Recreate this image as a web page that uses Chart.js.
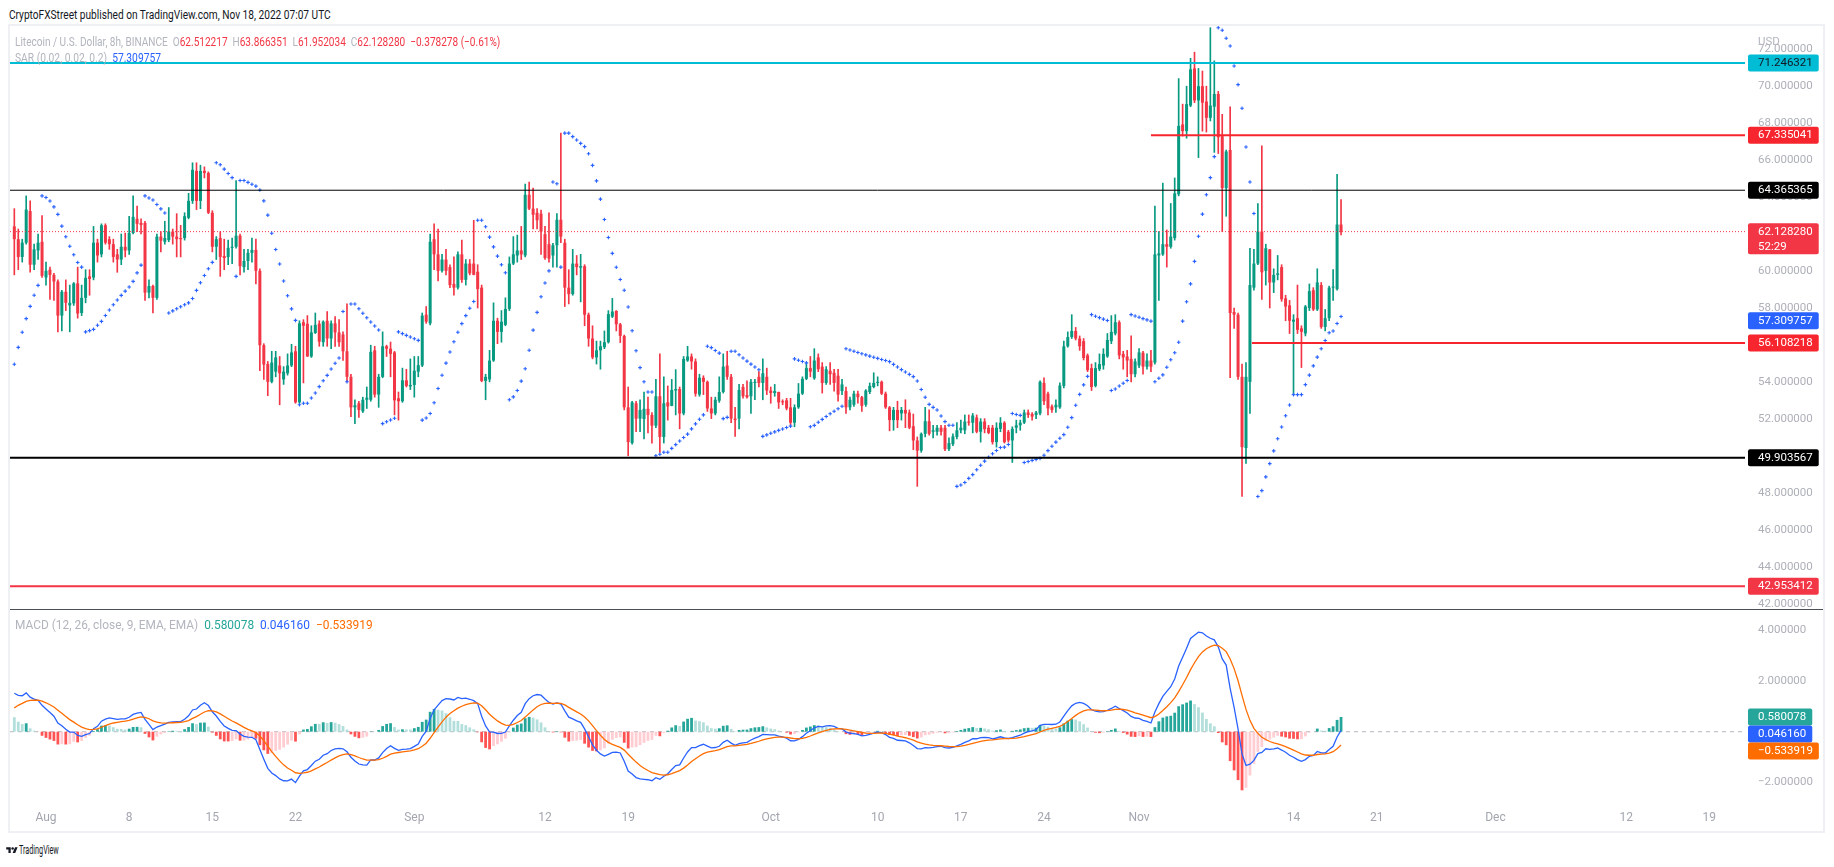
<!DOCTYPE html>
<html><head><meta charset="utf-8"><title>LTC/USD 8h</title>
<script src="https://cdn.jsdelivr.net/npm/chart.js@4.4.1/dist/chart.umd.min.js"></script>
<style>
html,body{margin:0;padding:0;background:#fff;}
body{width:1834px;height:867px;position:relative;overflow:hidden;font-family:Roboto,"Noto Sans",sans-serif;}
.fit{position:absolute;white-space:pre;transform-origin:0 50%;line-height:14px;height:14px;font-size:12.5px;display:inline-block;}
canvas{position:absolute;left:0;}
#frame{position:absolute;left:8px;top:24px;width:1817px;height:809px;border:2px solid #eef0f4;box-sizing:border-box;}
#sep{position:absolute;left:10px;top:609px;width:1813px;height:1px;background:#4a4e59;}
.r{color:#f23645}
</style></head><body>
<div id="frame"></div>
<canvas id="priceChart" width="1834" height="583" style="top:26px;width:1834px;height:583px"></canvas>
<canvas id="macdChart" width="1834" height="223" style="top:610px;width:1834px;height:223px"></canvas>
<div id="sep"></div>
<div class="fit" data-w="322" style="left:9px;top:8px;color:#131722">CryptoFXStreet published on TradingView.com, Nov 18, 2022 07:07 UTC</div>
<div class="fit" data-w="485" style="left:15px;top:35px;color:#b2b5be">Litecoin / U.S. Dollar, 8h, BINANCE  O<span class="r">62.512217</span>  H<span class="r">63.866351</span>  L<span class="r">61.952034</span>  C<span class="r">62.128280</span>  <span class="r">−0.378278 (−0.61%)</span></div>
<div class="fit" data-w="146" style="left:15px;top:51px;color:#b2b5be">SAR (0.02, 0.02, 0.2)  <span style="color:#2962ff">57.309757</span></div>
<div class="fit" data-w="358" style="left:15px;top:618px;color:#b2b5be">MACD (12, 26, close, 9, EMA, EMA)  <span style="color:#26a69a">0.580078</span>  <span style="color:#2962ff">0.046160</span>  <span style="color:#ff6d00">−0.533919</span></div>
<div style="position:absolute;left:1758px;top:34px;font-size:11.5px;color:#b2b5be;line-height:14px">USD</div>
<svg style="position:absolute;left:6px;top:846px" width="12" height="9" viewBox="0 0 36 28"><path d="M14 22H7V11H0V4h14v18zM28 22h-8l7.5-18h8L28 22z" fill="#131722"/><circle cx="20" cy="8" r="4" fill="#131722"/></svg>
<div class="fit" data-w="40" style="left:19px;top:843px;color:#131722;font-size:13px">TradingView</div>
<script>
// ---------------- DATA ----------------
const firstBarTime = Date.UTC(2022, 6, 29, 8); // Jul 29 2022 08:00 UTC
const barHours = 8;
const axisOrigin = Date.UTC(2022, 7, 1); // Aug 1 2022

const opens = [
62.41,61.72,60.76,61.53,63.24,60.34,61.11,61.58,59.65,60.07,
59.79,59.43,57.59,58.88,58.14,58.25,59.33,57.73,58.55,59.71,
59.65,61.53,60.90,62.47,61.72,61.45,60.90,60.62,61.31,61.11,
62.05,62.82,62.60,62.60,58.83,59.19,58.55,61.86,61.58,61.67,
62.13,61.86,61.78,61.78,62.88,63.79,65.41,63.79,65.41,65.30,
63.15,61.31,61.78,60.81,60.76,61.25,61.31,61.91,60.21,60.54,
60.98,61.14,60.01,55.99,54.97,54.01,54.56,54.89,54.14,54.47,
54.89,55.66,52.90,57.23,57.15,55.38,56.65,57.15,56.15,57.31,
56.35,57.17,56.68,56.57,55.66,54.28,52.63,52.85,52.41,53.04,
53.04,55.71,53.32,54.28,55.93,55.80,55.60,53.12,52.96,54.09,
53.76,53.84,54.56,54.89,57.64,57.17,61.72,60.90,60.01,60.62,
60.21,59.30,59.10,60.90,59.52,60.40,60.40,59.96,59.10,54.06,
54.14,55.16,57.31,56.71,57.09,57.95,60.40,60.84,61.11,60.84,
64.12,63.37,63.15,63.10,61.99,61.45,60.84,61.39,62.77,61.53,
59.10,58.75,60.40,60.18,60.26,57.64,56.35,55.33,55.71,55.88,
56.15,57.53,57.84,57.12,56.49,52.63,50.70,52.85,52.02,52.00,
52.55,52.22,51.64,53.23,51.03,52.90,52.71,53.54,53.62,52.30,
55.16,55.38,55.11,53.32,54.23,54.01,52.57,52.30,52.99,53.46,
54.89,54.28,52.02,52.02,53.73,53.29,53.23,53.95,54.28,53.95,
54.28,53.54,53.40,53.46,52.96,53.01,52.63,51.80,52.63,53.37,
54.17,54.75,54.20,55.33,54.83,53.95,54.61,54.50,54.34,53.51,
53.51,52.63,52.77,53.37,53.18,52.77,53.46,53.73,53.95,54.01,
53.37,52.63,51.94,52.49,52.30,52.49,52.35,51.61,50.84,50.29,
51.20,51.88,51.31,51.31,51.53,51.53,50.37,50.64,51.03,51.39,
51.39,51.86,51.80,52.08,51.31,51.86,51.53,51.53,50.75,51.47,
51.80,51.31,50.84,51.53,51.66,51.80,52.35,52.27,52.22,52.30,
53.95,53.37,52.68,52.63,52.63,53.79,55.93,56.43,56.76,56.35,
56.21,55.44,54.75,53.79,54.69,54.89,55.38,56.21,56.62,57.23,
55.52,55.38,55.25,54.42,54.89,55.58,54.83,55.16,55.05,60.84,
60.90,61.45,61.31,61.78,64.15,67.92,67.56,68.94,70.95,69.22,
69.99,69.16,68.28,68.88,69.57,67.29,64.48,66.54,57.78,57.64,
54.28,50.43,54.01,59.10,60.40,62.13,60.01,61.17,59.38,59.79,
60.21,58.52,58.14,57.26,57.45,56.90,56.62,58.00,58.96,57.92,
59.24,56.98,57.45,59.10,59.02,62.512217];

const highs = [
63.37,62.27,61.72,64.06,63.79,61.45,62.00,62.99,60.48,60.21,
59.87,59.52,58.96,59.52,59.24,59.38,60.21,59.24,60.07,60.07,
62.41,61.72,62.55,62.55,61.86,61.72,61.17,62.00,62.05,62.96,
64.06,63.51,62.82,62.69,59.52,59.24,62.00,62.13,62.69,63.43,
62.27,63.10,62.47,63.15,64.20,65.85,65.85,65.72,65.63,65.36,
63.26,61.86,62.13,61.72,61.67,61.78,64.89,62.00,61.17,61.17,
61.78,61.72,60.12,56.07,55.11,55.66,55.66,55.38,54.83,55.52,
56.04,55.93,57.31,57.37,57.59,57.04,57.73,57.31,57.31,57.81,
57.31,57.53,57.37,56.71,58.22,54.42,53.04,52.96,53.18,53.73,
55.99,55.93,54.42,56.71,55.99,56.16,55.66,53.46,54.75,54.69,
55.25,55.38,55.38,57.73,58.08,62.00,62.55,62.27,60.90,61.17,
60.34,60.76,61.03,61.67,60.62,60.62,62.74,60.34,59.24,54.42,
55.71,58.28,57.45,57.86,58.55,60.76,61.86,61.94,62.41,64.70,
64.81,64.48,63.37,63.29,62.41,63.15,61.50,63.10,67.45,61.72,
60.07,61.17,60.84,60.90,60.34,57.73,57.04,56.21,56.21,56.76,
57.86,58.52,57.86,57.17,56.54,53.73,52.96,52.96,53.04,53.46,
53.18,52.35,54.14,55.52,54.28,53.79,54.14,54.67,53.73,55.38,
55.93,55.52,55.25,54.42,54.34,54.06,53.18,53.18,54.28,55.52,
55.66,54.42,52.63,53.87,53.87,54.06,54.14,54.14,54.56,55.25,
54.75,53.73,53.87,53.46,53.04,53.12,53.12,52.77,53.92,54.28,
55.03,55.38,55.80,55.52,55.05,54.83,55.05,54.69,54.69,54.14,
53.73,53.18,53.51,53.51,53.23,53.59,53.95,54.50,54.28,54.06,
53.46,52.68,52.63,52.96,52.63,53.04,52.49,52.27,51.03,51.25,
52.63,52.49,51.66,51.66,51.66,51.66,50.98,51.20,51.80,51.94,
52.22,52.22,52.30,52.22,52.02,52.02,51.66,51.66,51.80,52.08,
51.86,51.39,51.58,51.94,51.94,52.49,52.49,52.35,52.41,54.06,
54.23,53.46,52.77,53.04,53.95,56.21,56.71,57.64,56.95,56.49,
56.35,55.52,54.97,55.05,55.52,55.80,56.62,57.59,57.64,57.31,
55.66,55.71,56.49,55.25,55.80,55.66,55.52,55.71,63.51,62.13,
64.75,62.22,63.65,65.03,70.40,69.02,69.99,71.50,71.83,70.95,
70.81,69.99,73.15,71.36,69.71,68.47,66.54,68.88,58.00,57.73,
54.97,55.05,61.23,61.17,63.65,66.76,61.45,61.17,60.12,60.84,
60.34,58.69,58.41,57.64,59.24,57.04,58.14,59.30,59.10,60.12,
59.38,57.92,59.19,60.07,65.22,63.866351];

const lows = [
59.79,60.07,60.48,61.45,59.93,60.07,60.62,59.65,59.24,58.47,
58.41,56.71,56.76,57.86,56.71,58.14,57.45,57.59,58.28,58.69,
59.52,60.48,60.76,61.45,61.17,60.48,59.93,60.34,60.76,60.90,
62.00,62.13,62.00,58.41,58.55,57.73,58.47,61.03,61.45,61.58,
61.45,60.76,60.76,61.67,62.82,63.65,63.32,63.37,65.03,63.10,
61.03,60.62,59.71,60.07,60.34,60.40,61.23,59.79,59.93,60.07,
60.48,59.30,54.61,54.14,53.26,53.95,54.28,52.77,53.87,54.37,
54.83,52.85,52.85,53.95,55.38,55.33,56.62,55.93,55.93,55.93,
55.80,55.93,55.93,55.16,54.01,52.13,51.75,52.08,52.35,52.57,
52.96,53.18,52.63,54.23,55.38,54.28,52.22,51.94,52.90,53.73,
53.59,53.18,54.28,54.83,57.17,57.09,60.07,59.46,59.93,59.79,
59.10,58.69,59.02,59.38,59.24,59.79,59.79,58.00,54.01,53.04,
54.01,55.11,56.07,56.15,57.04,57.86,60.34,60.48,60.62,60.76,
63.32,62.27,62.27,60.90,60.62,60.48,60.21,60.21,61.53,58.08,
58.22,58.69,59.79,58.33,57.04,55.93,55.25,54.97,54.69,55.80,
56.10,57.48,56.76,56.13,52.49,50.01,50.64,51.31,51.31,50.92,
51.25,50.70,51.53,50.20,50.70,51.94,52.71,52.22,51.47,52.22,
55.11,54.69,53.23,53.23,53.32,52.41,52.02,52.22,52.90,53.40,
54.14,51.80,51.06,51.47,53.12,53.12,52.30,53.04,53.73,53.04,
53.32,52.85,53.23,52.57,52.77,52.49,51.66,51.58,52.57,53.32,
54.12,54.28,54.14,54.56,53.40,53.87,53.87,53.51,52.96,53.32,
52.30,52.49,52.68,52.85,52.41,52.68,53.37,53.68,53.79,53.32,
52.57,51.36,51.39,51.53,51.94,51.53,51.47,50.34,48.36,50.20,
51.03,51.12,50.98,51.12,51.12,50.29,50.29,50.56,50.92,51.25,
51.20,51.66,51.25,51.25,50.75,51.25,51.20,50.64,50.48,51.31,
50.70,50.75,49.65,51.25,51.39,51.75,52.08,51.94,52.02,52.22,
52.77,52.22,52.35,52.35,52.57,53.68,55.88,56.35,56.27,55.71,
55.19,54.56,53.54,53.73,54.61,54.69,55.33,56.07,56.54,55.25,
54.69,54.28,54.01,54.28,54.78,54.42,54.69,54.56,54.97,58.41,
60.84,60.21,61.23,61.67,64.06,67.29,67.18,68.88,69.10,66.13,
67.56,67.51,68.11,66.41,66.35,62.13,62.96,54.23,56.90,54.14,
47.81,49.60,52.30,58.96,60.34,58.47,59.24,58.00,58.83,59.52,
58.36,57.31,56.62,53.32,56.62,54.78,56.49,57.86,57.86,57.86,
56.90,56.76,57.31,58.41,58.96,61.952034];

const closes = [
61.72,60.76,61.53,63.32,60.34,61.17,61.53,59.74,60.01,59.79,
59.43,57.59,58.88,58.28,58.28,59.33,57.70,58.55,59.63,59.57,
61.53,60.84,62.47,61.53,61.45,60.76,60.62,61.31,61.11,62.05,
62.93,62.55,62.49,58.83,59.19,58.55,61.86,61.64,61.78,62.13,
61.86,61.72,61.72,62.96,63.79,65.47,63.79,65.41,65.30,63.15,
61.31,61.72,60.76,60.70,61.25,61.31,61.91,60.26,60.54,60.98,
61.14,60.01,55.99,54.94,54.01,55.05,55.33,54.47,54.56,54.89,
55.60,52.90,57.17,57.04,55.38,56.68,57.09,56.18,57.26,56.35,
57.17,56.68,56.15,55.66,54.28,52.63,52.74,52.49,53.04,53.15,
55.63,53.32,54.28,55.93,55.80,55.52,53.01,52.96,54.09,53.79,
53.84,54.61,54.91,57.59,57.26,61.58,60.90,60.01,60.62,60.01,
59.24,59.10,60.90,59.52,60.40,59.87,59.79,59.02,54.06,54.28,
55.16,57.31,56.71,57.26,57.95,60.40,60.90,61.11,60.90,64.12,
63.37,63.04,62.74,62.13,60.70,60.67,61.39,62.77,61.86,59.10,
58.75,60.40,60.21,60.26,57.64,56.35,55.33,55.71,55.93,56.15,
57.67,57.81,57.12,56.49,52.63,50.75,52.90,52.02,52.49,52.55,
52.22,51.64,53.23,51.03,52.85,52.68,53.57,53.62,52.30,55.25,
55.38,55.11,53.37,54.23,54.01,52.57,52.30,53.04,53.46,54.83,
54.28,52.02,51.94,53.57,53.23,53.18,54.01,54.01,53.95,54.47,
53.54,53.40,53.51,52.90,52.90,52.57,51.80,52.63,53.37,54.17,
54.75,54.56,55.16,54.69,53.95,54.69,54.42,53.95,53.32,53.87,
52.63,53.04,53.37,53.18,52.71,53.54,53.79,53.95,54.01,53.37,
52.63,51.94,52.49,51.94,52.49,52.30,51.53,50.84,50.29,51.20,
51.88,51.20,51.39,51.53,51.31,50.37,50.70,51.06,51.39,51.53,
51.86,51.80,52.19,51.31,51.86,51.45,51.25,50.75,51.53,51.80,
50.75,50.84,51.47,51.66,51.80,52.35,52.22,52.13,52.35,54.01,
52.96,52.57,52.49,52.77,53.81,55.93,56.43,56.76,56.35,55.93,
55.30,54.64,53.73,54.75,54.97,55.52,56.27,56.71,57.23,55.44,
55.33,55.16,54.42,55.11,55.60,54.83,55.16,54.83,60.90,60.95,
61.45,61.31,61.86,64.20,67.84,67.56,69.02,70.90,69.22,69.99,
69.10,68.28,68.94,69.57,67.23,64.48,66.46,57.73,57.64,54.28,
50.48,54.28,59.24,60.40,62.13,59.93,61.23,59.38,59.79,59.87,
58.47,58.08,57.31,57.37,56.82,56.71,58.08,58.91,57.92,59.38,
56.98,57.45,59.10,59.16,62.51,62.128280];

// horizontal levels drawn on the chart
const hLinePrices = [71.246321, 67.335041, 64.365365, 56.108218, 49.903567, 42.953412];
const hLineStarts = [null, '2022-11-02T00:00:00Z', null, '2022-11-10T12:00:00Z', null, null];
const sarLabelValue = 57.309757;
const countdownText = '52:29';

// MACD values shown on the right scale
const macdHistLast = 0.580078, macdLineLast = 0.046160, macdSignalLast = -0.533919;

// indicator settings and seeds (state before first visible bar)
const sarSettings = {start: 0.02, inc: 0.02, max: 0.2};
const sarSeed = {sar: 53.95, ep: 64.06, af: 0.1, rising: true};
const macdSeed = {fast: 60.1, slow: 58.6, signal: 0.8};

// tick labels
const tickDates = ['2022-08-01','2022-08-08','2022-08-15','2022-08-22','2022-09-01','2022-09-12','2022-09-19','2022-10-01','2022-10-10','2022-10-17','2022-10-24','2022-11-01','2022-11-14','2022-11-21','2022-12-01','2022-12-12','2022-12-19'];
const tickLabels = ['Aug','8','15','22','Sep','12','19','Oct','10','17','24','Nov','14','21','Dec','12','19'];
const priceTicks = [42,44,46,48,50,52,54,56,58,60,62,64,66,68,70,72];
const macdTicks = [-2,0,2,4];

// ---------------- LAYOUT / STYLE ----------------
const X_MIN = -3.03, X_MAX = 143.0;
const P_MIN = 41.73, P_MAX = 73.243;
const M_MIN = -2.897, M_MAX = 4.81;
const AXIS_W = 89;
const GREEN = '#089981', RED = '#f23645';
const hLineStyles = [
  {color:'#00bcd4', width:2, text:'#131722'},
  {color:'#f7262e', width:2, text:'#ffffff'},
  {color:'#000000', width:1, text:'#ffffff'},
  {color:'#f7262e', width:2, text:'#ffffff'},
  {color:'#000000', width:2, text:'#ffffff'},
  {color:'#f23645', width:2, text:'#ffffff'}
];

Chart.defaults.font.family = 'Roboto, "Noto Sans", sans-serif';
Chart.defaults.font.size = 11.5;

const dayOf = t => (t - axisOrigin) / 864e5;
const barDays = opens.map((_, i) => dayOf(firstBarTime + i * barHours * 3600e3));
const candleColors = closes.map((c, i) => c >= opens[i] ? GREEN : RED);
const tickDays = tickDates.map(d => dayOf(Date.parse(d + 'T00:00:00Z')));
const fmt = v => (v < 0 ? '\u2212' : '') + Math.abs(v).toFixed(6);

// Parabolic SAR (0.02, 0.02, 0.2)
function computeSar(h, l) {
  const out = [];
  let res = sarSeed.sar, ep = sarSeed.ep, af = sarSeed.af, below = sarSeed.rising;
  for (let i = 0; i < h.length; i++) {
    let first = false;
    res = res + af * (ep - res);
    if (below) {
      if (res > l[i]) { first = true; below = false; res = Math.max(h[i], ep); ep = l[i]; af = sarSettings.start; }
    } else {
      if (res < h[i]) { first = true; below = true; res = Math.min(l[i], ep); ep = h[i]; af = sarSettings.start; }
    }
    if (!first) {
      if (below) { if (h[i] > ep) { ep = h[i]; af = Math.min(af + sarSettings.inc, sarSettings.max); } }
      else { if (l[i] < ep) { ep = l[i]; af = Math.min(af + sarSettings.inc, sarSettings.max); } }
    }
    if (below) { if (i > 0) res = Math.min(res, l[i-1]); if (i > 1) res = Math.min(res, l[i-2]); }
    else { if (i > 0) res = Math.max(res, h[i-1]); if (i > 1) res = Math.max(res, h[i-2]); }
    out.push(res);
  }
  return out;
}
const sar = computeSar(highs, lows);

// MACD (12, 26, close, 9)
const macdLine = [], signalLine = [], histogram = [];
(function(){
  let f = macdSeed.fast, s = macdSeed.slow, g = macdSeed.signal;
  closes.forEach(c => {
    f += (2/13) * (c - f); s += (2/27) * (c - s);
    const m = f - s; g += (2/10) * (m - g);
    macdLine.push(m); signalLine.push(g); histogram.push(m - g);
  });
})();
const histColors = histogram.map((h, i) => {
  const p = i > 0 ? histogram[i-1] : h;
  if (h >= 0) return h > p ? '#26a69a' : '#b2dfdb';
  return h < p ? '#ff5252' : '#ffcdd2';
});

function roundRect(ctx, x, y, w, h, r) {
  ctx.beginPath();
  ctx.moveTo(x + r, y); ctx.lineTo(x + w - r, y); ctx.quadraticCurveTo(x + w, y, x + w, y + r);
  ctx.lineTo(x + w, y + h - r); ctx.quadraticCurveTo(x + w, y + h, x + w - r, y + h);
  ctx.lineTo(x + r, y + h); ctx.quadraticCurveTo(x, y + h, x, y + h - r);
  ctx.lineTo(x, y + r); ctx.quadraticCurveTo(x, y, x + r, y); ctx.closePath();
}
function drawBox(ctx, area, y, text, bg, fg, sub) {
  ctx.save();
  ctx.font = '11.5px Roboto, "Noto Sans", sans-serif';
  const w = ctx.measureText(text).width;
  const x0 = area.right + 3, h = sub ? 31 : 17, top = y - 8.5;
  ctx.fillStyle = bg; roundRect(ctx, x0, top, 16 + w, h, 2); ctx.fill();
  ctx.fillStyle = fg; ctx.textBaseline = 'middle'; ctx.textAlign = 'left';
  ctx.fillText(text, x0 + 10, y);
  if (sub) ctx.fillText(sub, x0 + 10, y + 15);
  ctx.restore();
}

const priceLabelPlugin = {
  id: 'priceLabels',
  afterDraw(chart) {
    const ctx = chart.ctx, y = chart.scales.y, a = chart.chartArea;
    hLinePrices.forEach((p, k) => drawBox(ctx, a, y.getPixelForValue(p), fmt(p), hLineStyles[k].color, hLineStyles[k].text));
    drawBox(ctx, a, y.getPixelForValue(sarLabelValue), fmt(sarLabelValue), '#2962ff', '#fff');
    const last = closes[closes.length - 1];
    drawBox(ctx, a, y.getPixelForValue(last), fmt(last), RED, '#fff', countdownText);
  }
};

const macdLabelPlugin = {
  id: 'macdLabels',
  afterDraw(chart) {
    const ctx = chart.ctx, y = chart.scales.y, a = chart.chartArea;
    const items = [
      {v: macdHistLast, bg: '#26a69a'},
      {v: macdLineLast, bg: '#2962ff'},
      {v: macdSignalLast, bg: '#ff6d00'}
    ].map(o => ({...o, py: y.getPixelForValue(o.v)})).sort((p, q) => p.py - q.py);
    for (let i = 1; i < items.length; i++) if (items[i].py < items[i-1].py + 17) items[i].py = items[i-1].py + 17;
    items.forEach(o => drawBox(ctx, a, o.py, fmt(o.v), o.bg, '#fff'));
  }
};

const noPadV = s => { s.width = AXIS_W; s.paddingTop = 0; s.paddingBottom = 0; s.paddingLeft = 0; s.paddingRight = 0; };
const noPadH = s => { s.height = 28; s.paddingLeft = 0; s.paddingRight = 0; s.paddingTop = 0; s.paddingBottom = 0; };

// ---------------- PRICE CHART ----------------
const hLineSets = hLinePrices.map((p, k) => ({
  type: 'line',
  data: [{x: hLineStarts[k] ? dayOf(Date.parse(hLineStarts[k])) : X_MIN, y: p}, {x: X_MAX, y: p}],
  borderColor: hLineStyles[k].color, borderWidth: hLineStyles[k].width,
  pointRadius: 0, pointHoverRadius: 0, order: 0
}));
const lastClose = closes[closes.length - 1];

new Chart(document.getElementById('priceChart'), {
  type: 'bar',
  data: {
    datasets: [
      ...hLineSets,
      {type: 'line', data: barDays.map((d, i) => ({x: d, y: sar[i]})), showLine: false,
       pointStyle: 'cross', pointRadius: 1.8, pointHoverRadius: 1.8, pointBorderWidth: 1.1, pointBorderColor: '#2962ff', pointBackgroundColor: '#2962ff', order: 1},
      {type: 'line', data: [{x: X_MIN, y: lastClose}, {x: X_MAX, y: lastClose}], borderColor: RED, borderWidth: 1,
       borderDash: [1, 2], pointRadius: 0, pointHoverRadius: 0, order: 2},
      {type: 'bar', data: barDays.map((d, i) => ({x: d, y: [opens[i], closes[i]]})), backgroundColor: candleColors,
       grouped: false, barPercentage: 0.76, categoryPercentage: 1, minBarLength: 1, borderWidth: 0, order: 3},
      {type: 'bar', data: barDays.map((d, i) => ({x: d, y: [lows[i], highs[i]]})), backgroundColor: candleColors,
       grouped: false, maxBarThickness: 1, barPercentage: 1, categoryPercentage: 1, minBarLength: 1, borderWidth: 0, order: 4}
    ]
  },
  options: {
    animation: false, responsive: false, maintainAspectRatio: false, events: [],
    layout: {autoPadding: false, padding: {left: 10, right: 0, top: 0, bottom: 0}},
    plugins: {legend: {display: false}, tooltip: {enabled: false}},
    scales: {
      x: {type: 'linear', min: X_MIN, max: X_MAX, display: false, offset: false, grid: {display: false}},
      y: {type: 'linear', position: 'right', min: P_MIN, max: P_MAX,
          grid: {display: false, drawTicks: false}, border: {display: false},
          afterFit: noPadV,
          afterBuildTicks: s => { s.ticks = priceTicks.map(v => ({value: v})); },
          ticks: {padding: 13, color: '#adb0b8', font: {size: 11.5}, callback: v => fmt(v)}}
    }
  },
  plugins: [priceLabelPlugin]
});

// ---------------- MACD CHART ----------------
new Chart(document.getElementById('macdChart'), {
  type: 'bar',
  data: {
    datasets: [
      {type: 'line', data: barDays.map((d, i) => ({x: d, y: signalLine[i]})), borderColor: '#ff6d00', borderWidth: 1.3, pointRadius: 0, pointHoverRadius: 0, order: 0},
      {type: 'line', data: barDays.map((d, i) => ({x: d, y: macdLine[i]})), borderColor: '#2962ff', borderWidth: 1.3, pointRadius: 0, pointHoverRadius: 0, order: 1},
      {type: 'bar', data: barDays.map((d, i) => ({x: d, y: histogram[i]})), backgroundColor: histColors,
       grouped: false, barPercentage: 0.7, categoryPercentage: 1, borderWidth: 0, order: 2},
      {type: 'line', data: [{x: X_MIN, y: 0}, {x: X_MAX, y: 0}], borderColor: 'rgba(120,123,134,0.55)', borderWidth: 1,
       borderDash: [4, 4], pointRadius: 0, pointHoverRadius: 0, order: 3}
    ]
  },
  options: {
    animation: false, responsive: false, maintainAspectRatio: false, events: [],
    layout: {autoPadding: false, padding: {left: 10, right: 0, top: 0, bottom: 0}},
    plugins: {legend: {display: false}, tooltip: {enabled: false}},
    scales: {
      x: {type: 'linear', min: X_MIN, max: X_MAX, offset: false,
          grid: {display: false, drawTicks: false}, border: {display: false},
          afterFit: noPadH,
          afterBuildTicks: s => { s.ticks = tickDays.map(v => ({value: v})); },
          ticks: {autoSkip: false, maxRotation: 0, minRotation: 0, padding: 6, color: '#a3a6af', font: {size: 12},
                  callback: (v, i) => tickLabels[i]}},
      y: {type: 'linear', position: 'right', min: M_MIN, max: M_MAX,
          grid: {display: false, drawTicks: false}, border: {display: false},
          afterFit: noPadV,
          afterBuildTicks: s => { s.ticks = macdTicks.map(v => ({value: v})); },
          ticks: {padding: 13, color: '#adb0b8', font: {size: 11.5}, callback: v => fmt(v)}}
    }
  },
  plugins: [macdLabelPlugin]
});

// fit legend texts to their measured widths
function fitAll() {
  document.querySelectorAll('.fit').forEach(el => {
    el.style.transform = 'none';
    const w = el.offsetWidth;
    if (w > 0) el.style.transform = 'scaleX(' + (parseFloat(el.dataset.w) / w) + ')';
  });
}
fitAll();
if (document.fonts && document.fonts.ready) document.fonts.ready.then(fitAll);
</script>
</body></html>
